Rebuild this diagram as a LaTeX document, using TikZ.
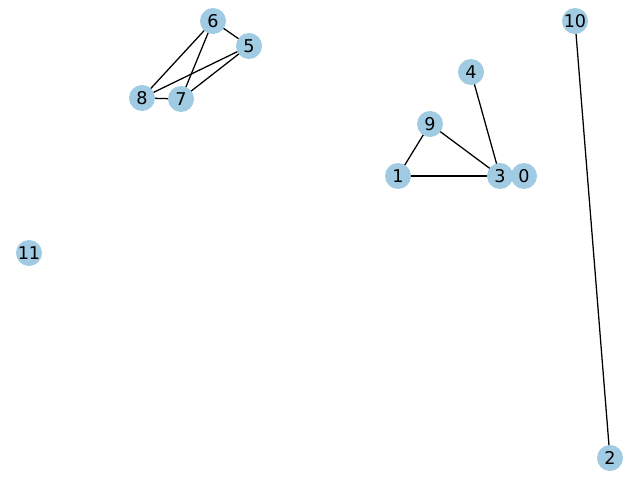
\documentclass[tikz,border=0pt]{standalone}
\usepackage{fontspec}
\setmainfont{DejaVu Sans}
\usepackage{tikz}
\usetikzlibrary{backgrounds}
\definecolor{nodeblue}{RGB}{160,203,226}

\begin{document}
\begin{tikzpicture}[
  x=0.025cm, y=-0.025cm,
  vertex/.style={circle,fill=nodeblue,inner sep=0pt,minimum size=0.65cm,font=\fontsize{12.5}{13}\selectfont},
  link/.style={line width=0.9pt,black}
]
\useasboundingbox (0,0) rectangle (640,480);
\node[vertex] (n6) at (213,21) {6};
\node[vertex] (n5) at (249,46) {5};
\node[vertex] (n8) at (142,98) {8};
\node[vertex] (n7) at (181,99) {7};
\node[vertex] (n4) at (471,72) {4};
\node[vertex] (n9) at (430,124) {9};
\node[vertex] (n1) at (398,176) {1};
\node[vertex] (n3) at (500,176) {3};
\node[vertex] (n0) at (524,176) {0};
\node[vertex] (n10) at (575,21) {10};
\node[vertex] (n2) at (610,458) {2};
\node[vertex] (n11) at (29,253) {11};
\begin{scope}[on background layer]
\draw[link] (n6.center) -- (n5.center);
\draw[link] (n6.center) -- (n8.center);
\draw[link] (n6.center) -- (n7.center);
\draw[link] (n5.center) -- (n8.center);
\draw[link] (n5.center) -- (n7.center);
\draw[link] (n8.center) -- (n7.center);
\draw[link] (n4.center) -- (n3.center);
\draw[link] (n9.center) -- (n1.center);
\draw[link] (n9.center) -- (n3.center);
\draw[link] (n1.center) -- (n3.center);
\draw[link] (n10.center) -- (n2.center);
\end{scope}
\end{tikzpicture}
\end{document}
